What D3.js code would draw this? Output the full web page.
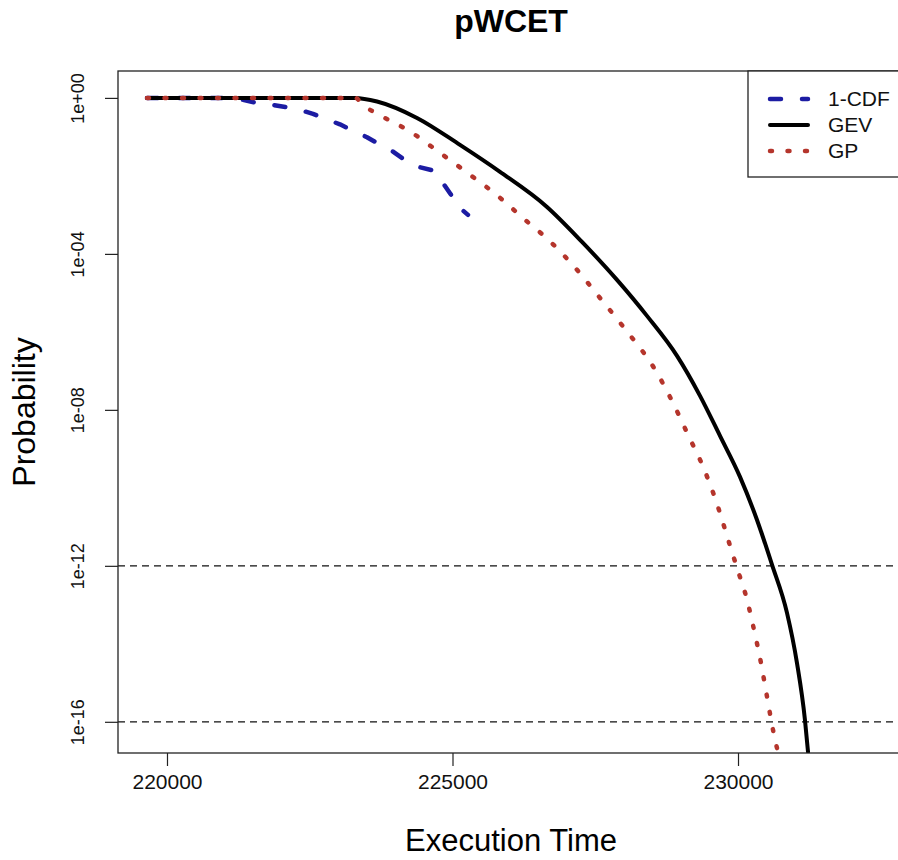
<!DOCTYPE html>
<html>
<head>
<meta charset="utf-8">
<script src="https://cdn.jsdelivr.net/npm/d3@7"></script>
<style>
  html, body { margin: 0; padding: 0; background: #fff; }
  svg { display: block; font-family: "Liberation Sans", Arial, sans-serif; }
</style>
</head>
<body>
<svg id="chart" width="898" height="860"></svg>
<script>
// Empirical exceedance (1 - CDF) of the measured execution times
const cdfTime = [219650, 220928, 221331, 221541, 221856, 222101, 222329, 222557, 222802,
  223029, 223257, 223502, 223765, 223958, 224203, 224431, 224658, 224816, 224956, 225131, 225271];
const cdfProb = [1, 1, 0.89, 0.76, 0.66, 0.575, 0.49, 0.39, 0.28,
  0.21, 0.145, 0.098, 0.059, 0.042, 0.0234, 0.0166, 0.0138, 7.1e-3, 3.6e-3, 1.5e-3, 1.0e-3];

// Generalised extreme value fit
const gevTime = [219650, 223292, 223678, 224378, 225131, 225832, 226655, 227268, 227881,
  228406, 228932, 229335, 229685, 230035, 230333, 230595, 230858, 231033, 231173, 231226];
const gevProb = [1, 1, 0.81, 0.307, 0.0624, 0.0127, 1.6e-3, 2.03e-4, 2.15e-5,
  2.57e-6, 2.43e-7, 2.29e-8, 2.15e-9, 1.91e-10, 1.5e-11, 1.07e-12, 6.2e-14, 3.2e-15, 1.1e-16, 1.7e-17];

// Generalised Pareto fit
const gpTime = [219650, 223300, 223432, 223730, 224256, 224781, 225306, 225778, 226234,
  226707, 227180, 227583, 227986, 228581, 228862, 229124, 229387, 229597, 229860,
  229982, 230158, 230280, 230403, 230508, 230613, 230683];
const gpProb = [1, 1, 0.66, 0.36, 0.138, 0.039, 0.0107, 3.2e-3, 8.3e-4,
  2.1e-4, 3.9e-5, 7.4e-6, 1.38e-6, 8.9e-8, 1.5e-8, 2.3e-9, 3.5e-10, 5.5e-11, 3.3e-12,
  8.9e-13, 1.35e-13, 2.3e-14, 3.2e-15, 4.4e-16, 6.2e-17, 2.1e-17];

// Axis ticks and reference levels
const xTicks = [220000, 225000, 230000];
const xTickLabels = ["220000", "225000", "230000"];
const yTicks = [1, 1e-4, 1e-8, 1e-12, 1e-16];
const yTickLabels = ["1e+00", "1e-04", "1e-08", "1e-12", "1e-16"];
const refLevels = [1e-12, 1e-16];

const legendLabels = ["1-CDF", "GEV", "GP"];

const plot = { left: 118, right: 904, top: 71, bottom: 753 };

const svg = d3.select("#chart");

const x = d3.scaleLinear().domain([219142, 232907]).range([plot.left, plot.right]);
const y = d3.scaleLog().domain([Math.pow(10, 0.69), Math.pow(10, -16.8)]).range([plot.top, plot.bottom]);

svg.append("defs").append("clipPath").attr("id", "plotClip")
  .append("rect")
  .attr("x", plot.left).attr("y", plot.top)
  .attr("width", plot.right - plot.left).attr("height", plot.bottom - plot.top);

// Title
svg.append("text")
  .attr("x", (plot.left + plot.right) / 2).attr("y", 32)
  .attr("text-anchor", "middle")
  .attr("font-size", 32).attr("font-weight", "bold")
  .text("pWCET");

// Axis titles
svg.append("text")
  .attr("x", (plot.left + plot.right) / 2).attr("y", 851)
  .attr("text-anchor", "middle")
  .attr("font-size", 31)
  .text("Execution Time");

svg.append("text")
  .attr("transform", `translate(35, ${(plot.top + plot.bottom) / 2}) rotate(-90)`)
  .attr("text-anchor", "middle")
  .attr("font-size", 32)
  .text("Probability");

// Bottom axis
const xAxis = d3.axisBottom(x)
  .tickValues(xTicks)
  .tickFormat((d, i) => xTickLabels[i])
  .tickSize(13).tickPadding(8).tickSizeOuter(0);
const gx = svg.append("g").attr("transform", `translate(0, ${plot.bottom})`).call(xAxis);
gx.select(".domain").remove();
gx.selectAll(".tick line").attr("stroke", "#222").attr("stroke-width", 1.2);
gx.selectAll(".tick text").attr("font-size", 21).attr("fill", "#111")
  .attr("font-family", "'Liberation Sans', Arial, sans-serif");

// Left axis with rotated labels
const yAxis = d3.axisLeft(y)
  .tickValues(yTicks)
  .tickFormat((d, i) => yTickLabels[i])
  .tickSize(13).tickSizeOuter(0);
const gy = svg.append("g").attr("transform", `translate(${plot.left}, 0)`).call(yAxis);
gy.select(".domain").remove();
gy.selectAll(".tick line").attr("stroke", "#222").attr("stroke-width", 1.2);
gy.selectAll(".tick text")
  .attr("font-size", 18).attr("fill", "#111")
  .attr("font-family", "'Liberation Sans', Arial, sans-serif")
  .attr("x", null).attr("dy", null)
  .attr("text-anchor", "middle")
  .attr("transform", "translate(-34, 0) rotate(-90)");

// Reference probability levels
svg.append("g").selectAll("line").data(refLevels).join("line")
  .attr("x1", plot.left).attr("x2", plot.right)
  .attr("y1", d => y(d)).attr("y2", d => y(d))
  .attr("stroke", "#111").attr("stroke-width", 1.3)
  .attr("stroke-dasharray", "7,5");

// Curves
const curves = [
  { time: cdfTime, prob: cdfProb, color: "#1c1ca3", width: 4.5, dash: "11,21", curve: d3.curveLinear },
  { time: gevTime, prob: gevProb, color: "#000000", width: 4, dash: null, curve: d3.curveMonotoneX },
  { time: gpTime, prob: gpProb, color: "#b5352c", width: 4.5, dash: "2,15.5", curve: d3.curveMonotoneX }
];

const gCurves = svg.append("g").attr("clip-path", "url(#plotClip)");
curves.forEach(c => {
  const lineGen = d3.line().x(d => x(d[0])).y(d => y(d[1])).curve(c.curve);
  gCurves.append("path")
    .attr("d", lineGen(d3.zip(c.time, c.prob)))
    .attr("fill", "none")
    .attr("stroke", c.color)
    .attr("stroke-width", c.width)
    .attr("stroke-linecap", "round")
    .attr("stroke-linejoin", "round")
    .attr("stroke-dasharray", c.dash);
});

// Plot frame
svg.append("rect")
  .attr("x", plot.left).attr("y", plot.top)
  .attr("width", plot.right - plot.left).attr("height", plot.bottom - plot.top)
  .attr("fill", "none").attr("stroke", "#222").attr("stroke-width", 1.3);

// Legend
const legend = svg.append("g");
legend.append("rect")
  .attr("x", 748).attr("y", plot.top)
  .attr("width", plot.right - 748).attr("height", 106)
  .attr("fill", "#fff").attr("stroke", "#222").attr("stroke-width", 1.3);

legendLabels.forEach((lab, i) => {
  const c = curves[i];
  const yy = 99 + i * 26;
  legend.append("line")
    .attr("x1", 770).attr("x2", 808)
    .attr("y1", yy).attr("y2", yy)
    .attr("stroke", c.color).attr("stroke-width", c.width)
    .attr("stroke-linecap", "round")
    .attr("stroke-dasharray", c.dash);
  legend.append("text")
    .attr("x", 828).attr("y", yy)
    .attr("dy", "0.35em")
    .attr("font-size", 21).attr("fill", "#111")
    .text(lab);
});
</script>
</body>
</html>
